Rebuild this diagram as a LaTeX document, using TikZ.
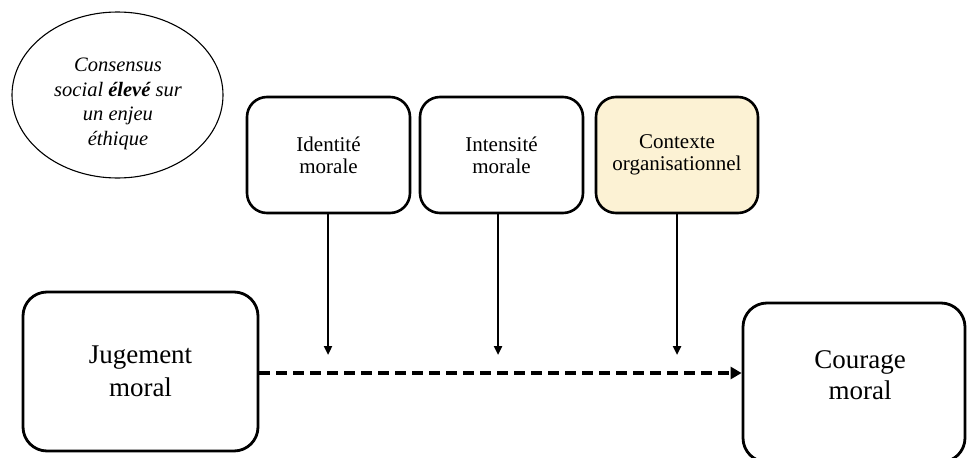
\documentclass[tikz,border=0pt]{standalone}
\usepackage{fontspec}
\setmainfont{Liberation Serif}
\usetikzlibrary{arrows.meta,shapes.geometric}
\definecolor{ctxfill}{RGB}{252,242,212}
\tikzset{
  smallbox/.style={draw=black, line width=2.6pt, rounded corners=20pt,
    minimum width=163pt, minimum height=116pt, align=center, inner sep=0pt,
    font=\fontsize{21}{22}\selectfont},
  bigbox/.style={draw=black, line width=2.8pt, rounded corners=24pt,
    align=center, inner sep=0pt, font=\fontsize{27}{33}\selectfont},
  bigtext/.style={align=center, inner sep=0pt, font=\fontsize{27}{31}\selectfont},
  consensus/.style={draw=black, line width=1.1pt, ellipse, minimum width=211pt,
    minimum height=166pt, inner sep=0pt},
  consensustext/.style={align=center, inner sep=0pt,
    font=\fontsize{20.5}{24.5}\selectfont\itshape},
  moderator/.style={line width=2.4pt, -{Triangle[length=9pt,width=8pt]}},
  mainlink/.style={line width=4pt, dash pattern=on 11pt off 6pt,
    -{Triangle[length=11pt,width=12pt]}}
}
\begin{document}
\begin{tikzpicture}[x=1pt,y=-1pt]
  \useasboundingbox (0,0) rectangle (967,458);
  \clip (0,0) rectangle (967,458);

  % background circle: ethical consensus
  \node[consensus] (cons) at (117.5,95) {};
  \node[consensustext] (constxt) at (118,104)
    {Consensus\\social \textbf{élevé} sur\\un enjeu\\éthique};

  % moderating factors
  \node[smallbox] (ident) at (328.5,155) {Identité\\morale};
  \node[smallbox] (inten) at (501.5,155) {Intensité\\morale};
  \node[smallbox, fill=ctxfill, minimum width=162pt] (ctx) at (677,155)
    {Contexte\\organisationnel};

  % main variables
  \node[bigbox, minimum width=235pt, minimum height=159pt] (jug) at (140.5,371.5)
    {Jugement\\moral};
  \node[bigbox, minimum width=222pt, minimum height=159pt] (cour) at (854,382.5) {};
  \node[bigtext] (courtxt) at (860,375) {Courage\\moral};

  % arrow end points
  \coordinate (t1) at (328,355);
  \coordinate (t2) at (498,355);
  \coordinate (t3) at (677,355);
  \coordinate (dl) at (0,373);

  \draw[moderator] (ident.south -| t1) -- (t1);
  \draw[moderator] (inten.south -| t2) -- (t2);
  \draw[moderator] (ctx.south -| t3) -- (t3);

  \draw[mainlink] (jug.east |- dl) -- (cour.west |- dl);
\end{tikzpicture}
\end{document}
